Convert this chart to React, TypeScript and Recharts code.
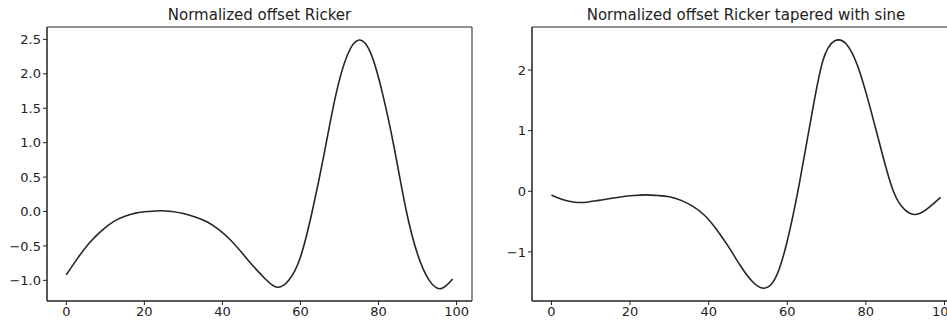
import { LineChart, Line, XAxis, YAxis, ReferenceArea } from "recharts";

// sample positions (every 3 samples of the 0..99 trace)
const xs = [0, 3, 6, 9, 12, 15, 18, 21, 24, 27, 30, 33, 36, 39, 42, 45, 48, 51, 54, 57, 60, 63, 66, 69, 72, 75, 78, 81, 84, 87, 90, 93, 96, 99];

const rickerValues = [
  -0.92, -0.67, -0.45, -0.28, -0.15, -0.07, -0.02, 0.0, 0.01, 0.0, -0.03, -0.08,
  -0.15, -0.26, -0.41, -0.6, -0.8, -0.98, -1.1, -1.0, -0.66, 0.0, 0.82, 1.68,
  2.27, 2.49, 2.3, 1.72, 0.93, 0.04, -0.62, -1.0, -1.12, -0.98,
];

const taperedValues = [
  -0.06, -0.14, -0.18, -0.18, -0.15, -0.12, -0.09, -0.07, -0.06, -0.07, -0.09, -0.15,
  -0.25, -0.4, -0.63, -0.91, -1.22, -1.48, -1.6, -1.43, -0.82, 0.1, 1.18, 2.14,
  2.48, 2.43, 2.05, 1.4, 0.66, 0.0, -0.31, -0.38, -0.27, -0.1,
];

const xTicks = [0, 20, 40, 60, 80, 100];
const leftYTicks = [-1, -0.5, 0, 0.5, 1, 1.5, 2, 2.5];
const rightYTicks = [-1, 0, 1, 2];

const FONT = "'DejaVu Sans', sans-serif";
const INK = "#222";

const leftData = xs.map((x, i) => ({ x, y: rickerValues[i] }));
const rightData = xs.map((x, i) => ({ x, y: taperedValues[i] }));

// matplotlib-style labels with a real minus sign
const fmt = (v: number, digits: number) => {
  const s = Math.abs(v).toFixed(digits);
  return v < 0 ? `\u2212${s}` : s;
};

const tickStyle = { fontSize: 13, fill: INK, fontFamily: FONT };

interface PanelProps {
  data: { x: number; y: number }[];
  yDomain: [number, number];
  yTicks: number[];
  digits: number;
  yAxisWidth: number;
  rightMargin: number;
}

function Panel({ data, yDomain, yTicks, digits, yAxisWidth, rightMargin }: PanelProps) {
  return (
    <LineChart
      width={480}
      height={324}
      data={data}
      margin={{ top: 27, right: rightMargin, bottom: 0, left: 0 }}
    >
      <XAxis
        type="number"
        dataKey="x"
        domain={[-4.95, 103.95]}
        ticks={xTicks}
        allowDataOverflow
        height={23}
        tick={tickStyle}
        tickSize={4}
        tickMargin={2}
        axisLine={{ stroke: INK }}
        tickLine={{ stroke: INK }}
      />
      <YAxis
        type="number"
        domain={yDomain}
        ticks={yTicks}
        allowDataOverflow
        width={yAxisWidth}
        tick={tickStyle}
        tickSize={4}
        tickMargin={2}
        tickFormatter={(v: number) => fmt(v, digits)}
        axisLine={{ stroke: INK }}
        tickLine={{ stroke: INK }}
      />
      {/* axes frame */}
      <ReferenceArea
        x1={-4.95}
        x2={103.95}
        y1={yDomain[0]}
        y2={yDomain[1]}
        fill="none"
        stroke={INK}
        strokeWidth={1}
        ifOverflow="visible"
      />
      <Line
        type="natural"
        dataKey="y"
        stroke="#262626"
        strokeWidth={1.6}
        dot={false}
        isAnimationActive={false}
      />
    </LineChart>
  );
}

const titleStyle = {
  position: "absolute" as const,
  top: 6,
  fontFamily: FONT,
  fontSize: 15,
  color: INK,
  textAlign: "center" as const,
  whiteSpace: "nowrap" as const,
};

export default function App() {
  return (
    <div
      style={{
        position: "absolute",
        left: 0,
        top: 0,
        width: 947,
        height: 324,
        overflow: "hidden",
        background: "#fff",
      }}
    >
      <div style={{ position: "absolute", left: 0, top: 0 }}>
        <Panel
          data={leftData}
          yDomain={[-1.3, 2.68]}
          yTicks={leftYTicks}
          digits={1}
          yAxisWidth={47}
          rightMargin={8}
        />
      </div>
      <div style={{ position: "absolute", left: 480, top: 0 }}>
        <Panel
          data={rightData}
          yDomain={[-1.81, 2.71]}
          yTicks={rightYTicks}
          digits={0}
          yAxisWidth={52}
          rightMargin={0}
        />
      </div>
      <div style={{ ...titleStyle, left: 47, width: 425 }}>Normalized offset Ricker</div>
      <div style={{ ...titleStyle, left: 532, width: 428 }}>
        Normalized offset Ricker tapered with sine
      </div>
    </div>
  );
}
